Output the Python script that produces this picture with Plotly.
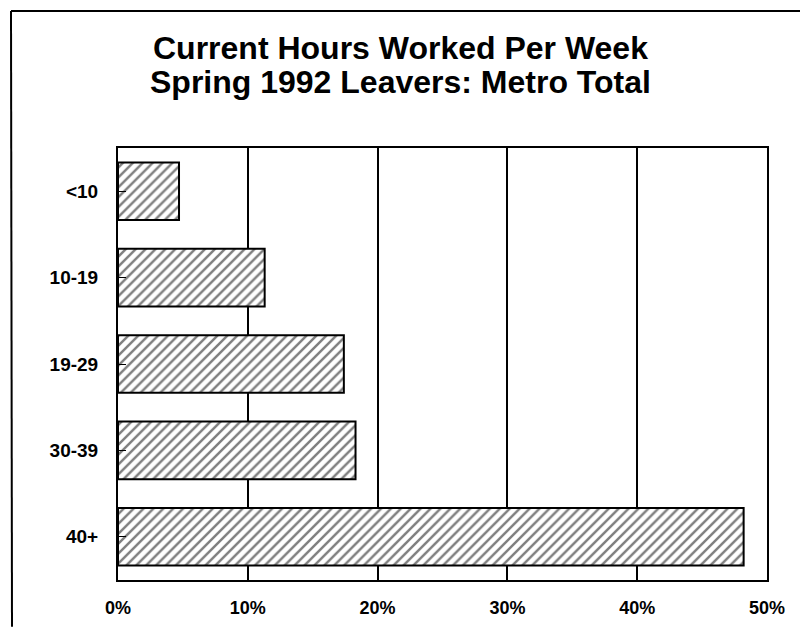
import plotly.graph_objects as go

categories = ["<10", "10-19", "19-29", "30-39", "40+"]
values = [4.7, 11.3, 17.4, 18.3, 48.2]
tick_vals = [0, 10, 20, 30, 40, 50]
tick_text = ["0%", "10%", "20%", "30%", "40%", "50%"]
title_lines = ["Current Hours Worked Per Week", "Spring 1992 Leavers: Metro Total"]

W, H = 800, 630
L, R, T, B = 118, 33, 148, 47
pw, ph = W - L - R, H - T - B

def px_x(px):
    return (px - L) / pw

def px_y(py):
    return (H - B - py) / ph

fig = go.Figure()
fig.add_trace(go.Bar(
    x=values, y=categories, orientation="h",
    width=0.667,
    marker=dict(
        color="white",
        line=dict(color="black", width=2),
        pattern=dict(shape="/", fgcolor="black", bgcolor="white", size=7, solidity=0.35),
    ),
    showlegend=False,
    hoverinfo="skip",
))

title_font = dict(size=32, family="Arial, Liberation Sans, sans-serif", color="black", weight="bold")
annotations = [
    dict(text=title_lines[0], xref="paper", yref="paper", x=px_x(400), y=px_y(47),
         xanchor="center", yanchor="middle", showarrow=False, font=title_font),
    dict(text=title_lines[1], xref="paper", yref="paper", x=px_x(400), y=px_y(82),
         xanchor="center", yanchor="middle", showarrow=False, font=title_font),
]

fig.update_layout(
    width=W, height=H,
    margin=dict(l=L, r=R, t=T, b=B),
    paper_bgcolor="white", plot_bgcolor="white",
    font=dict(family="Arial, Liberation Sans, sans-serif", color="black"),
    xaxis=dict(
        range=[0, 50], tickvals=tick_vals, ticktext=tick_text,
        showgrid=True, gridcolor="black", gridwidth=1.5,
        showline=True, linecolor="black", linewidth=2, mirror=True,
        ticks="", ticklabelstandoff=10,
        tickfont=dict(size=18, weight="bold"),
        zeroline=False, fixedrange=True,
    ),
    yaxis=dict(
        categoryorder="array", categoryarray=categories, autorange="reversed",
        showline=True, linecolor="black", linewidth=2, mirror=True,
        ticks="inside", ticklen=8, tickwidth=1.2, tickcolor="black",
        ticklabelstandoff=14,
        tickfont=dict(size=19, weight="bold"),
        showgrid=False, fixedrange=True,
    ),
    bargap=0.333,
    annotations=annotations,
    shapes=[
        dict(type="line", xref="paper", yref="paper",
             x0=px_x(11), x1=px_x(800), y0=px_y(10), y1=px_y(10),
             line=dict(color="black", width=2)),
        dict(type="line", xref="paper", yref="paper",
             x0=px_x(11), x1=px_x(12), y0=px_y(10), y1=px_y(630),
             line=dict(color="black", width=2)),
    ],
)

fig.write_html("out.html", config={"displayModeBar": False},
               post_script="document.body.style.margin='0';")
